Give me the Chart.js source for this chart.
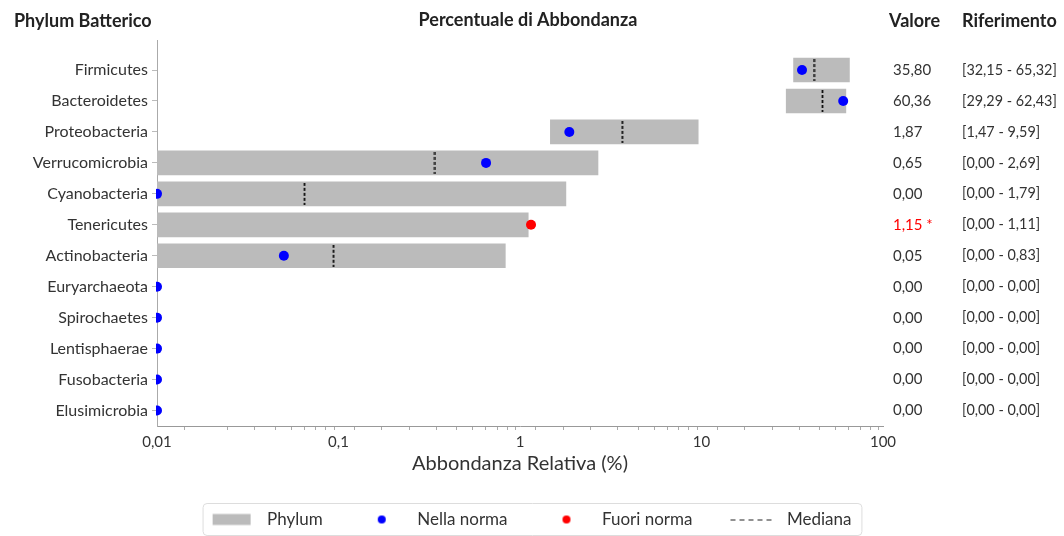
<!DOCTYPE html>
<html lang="it">
<head>
<meta charset="UTF-8">
<title>Percentuale di Abbondanza</title>
<style>
    body {
        margin: 0;
        background: #fff;
    }
    #wrap {
        width: 1064px;
        height: 536px;
    }
</style>
</head>
<body>
<div id="wrap"><canvas id="chart"></canvas></div>
<script src="https://cdn.jsdelivr.net/npm/chart.js"></script>
<script>
    const phyla = ['Firmicutes', 'Bacteroidetes', 'Proteobacteria', 'Verrucomicrobia', 'Cyanobacteria', 'Tenericutes',
        'Actinobacteria', 'Euryarchaeota', 'Spirochaetes', 'Lentisphaerae', 'Fusobacteria', 'Elusimicrobia'];
    const values = [35.80, 60.36, 1.87, 0.65, 0.00, 1.15, 0.05, 0.00, 0.00, 0.00, 0.00, 0.00];
    const refLow = [32.15, 29.29, 1.47, 0.00, 0.00, 0.00, 0.00, 0.00, 0.00, 0.00, 0.00, 0.00];
    const refHigh = [65.32, 62.43, 9.59, 2.69, 1.79, 1.11, 0.83, 0.00, 0.00, 0.00, 0.00, 0.00];
    const medians = [41.7, 46.4, 3.66, 0.34, 0.065, null, 0.094, null, null, null, null, null];
    const xTickValues = [0.01, 0.1, 1, 10, 100];

    const xMin = xTickValues[0];
    const xMax = xTickValues[xTickValues.length - 1];
    const textColor = '#333';
    const fmt = v => v.toFixed(2).replace('.', ',');
    const outOfNorm = i => values[i] > refHigh[i] || values[i] < refLow[i];

    // small canvases used as marker images (median dash, legend symbols)
    function makeMark(w, h, draw) {
        const c = document.createElement('canvas');
        c.width = w;
        c.height = h;
        draw(c.getContext('2d'));
        return c;
    }

    const medianMark = makeMark(3, 22, g => {
        g.strokeStyle = '#111';
        g.lineWidth = 1.8;
        g.setLineDash([3, 2]);
        g.beginPath();
        g.moveTo(1.5, 0);
        g.lineTo(1.5, 22);
        g.stroke();
    });

    const dot = color => makeMark(54, 14, g => {
        g.fillStyle = color;
        g.beginPath();
        g.arc(27, 7, 4, 0, Math.PI * 2);
        g.fill();
    });

    const legendMarks = [
        makeMark(54, 14, g => {
            g.fillStyle = '#bbbbbb';
            g.fillRect(8, 1.5, 38, 11);
        }),
        dot('#0000ff'),
        dot('#ff0000'),
        makeMark(54, 14, g => {
            g.strokeStyle = '#222';
            g.lineWidth = 1.2;
            g.setLineDash([5, 4]);
            g.beginPath();
            g.moveTo(6, 7.5);
            g.lineTo(50, 7.5);
            g.stroke();
        })
    ];

    const barData = [];
    const inNorm = [];
    const offNorm = [];
    const medianData = [];
    phyla.forEach((name, i) => {
        if (refHigh[i] > 0) {
            barData.push({y: i, x: [Math.max(refLow[i], xMin), refHigh[i]]});
        }
        const point = {y: i, x: Math.max(values[i], xMin)};
        (outOfNorm(i) ? offNorm : inNorm).push(point);
        if (medians[i] !== null) {
            medianData.push({y: i, x: medians[i]});
        }
    });

    const rowAxis = {
        type: 'linear',
        min: -0.97,
        max: 11.5,
        reverse: true,
        offset: false,
        afterBuildTicks: scale => {
            scale.ticks = phyla.map((_, i) => ({value: i}));
        }
    };

    const headerPlugin = {
        id: 'headers',
        afterDraw(chart) {
            const {ctx, scales, legend} = chart;
            ctx.save();
            ctx.font = 'bold 18px Lato';
            ctx.fillStyle = '#222';
            ctx.textBaseline = 'middle';
            ctx.textAlign = 'left';
            ctx.fillText('Phylum Batterico', 14, 21);
            ctx.fillText('Valore', scales.y2.left + 6, 21);
            ctx.fillText('Riferimento', scales.y3.left + 8, 21);

            const boxes = legend.legendHitBoxes;
            const left = Math.min(...boxes.map(b => b.left)) - 2;
            const right = Math.max(...boxes.map(b => b.left + b.width)) + 10;
            const top = boxes[0].top - 8;
            const bottom = Math.min(boxes[0].top + boxes[0].height + 7, chart.height - 1);
            ctx.strokeStyle = '#dddddd';
            ctx.lineWidth = 1;
            ctx.beginPath();
            ctx.roundRect(left + 0.5, top + 0.5, right - left, bottom - top, 4);
            ctx.stroke();
            ctx.restore();
        }
    };

    new Chart(document.getElementById('chart'), {
        type: 'bar',
        data: {
            datasets: [
                {
                    label: 'Phylum',
                    indexAxis: 'y',
                    data: barData,
                    backgroundColor: '#bbbbbb',
                    barThickness: 24,
                    order: 3,
                    xAxisID: 'x',
                    yAxisID: 'y'
                },
                {
                    type: 'scatter',
                    label: 'Nella norma',
                    data: inNorm,
                    backgroundColor: '#0000ff',
                    borderWidth: 0,
                    pointRadius: 5,
                    clip: {left: 1, top: false, right: false, bottom: false},
                    order: 1,
                    xAxisID: 'x',
                    yAxisID: 'y'
                },
                {
                    type: 'scatter',
                    label: 'Fuori norma',
                    data: offNorm,
                    backgroundColor: '#ff0000',
                    borderWidth: 0,
                    pointRadius: 5,
                    clip: {left: 1, top: false, right: false, bottom: false},
                    order: 1,
                    xAxisID: 'x',
                    yAxisID: 'y'
                },
                {
                    type: 'scatter',
                    label: 'Mediana',
                    data: medianData,
                    pointStyle: medianMark,
                    order: 2,
                    xAxisID: 'x',
                    yAxisID: 'y'
                }
            ]
        },
        options: {
            responsive: true,
            maintainAspectRatio: false,
            animation: false,
            layout: {
                padding: {top: 0, right: 8, bottom: -2, left: 0}
            },
            plugins: {
                tooltip: {enabled: false},
                title: {
                    display: true,
                    text: 'Percentuale di Abbondanza',
                    color: '#222',
                    font: {family: 'Lato', size: 18, weight: 'bold'},
                    padding: {top: 9, bottom: 9.4}
                },
                legend: {
                    position: 'bottom',
                    labels: {
                        usePointStyle: true,
                        pointStyleWidth: 54,
                        boxHeight: 14,
                        padding: 32,
                        color: textColor,
                        font: {family: 'Lato', size: 17},
                        generateLabels: chart => chart.data.datasets.map((ds, i) => ({
                            text: ds.label,
                            pointStyle: legendMarks[i],
                            datasetIndex: i,
                            hidden: !chart.isDatasetVisible(i),
                            fillStyle: 'transparent',
                            strokeStyle: 'transparent',
                            lineWidth: 0,
                            fontColor: textColor
                        }))
                    }
                }
            },
            scales: {
                x: {
                    type: 'logarithmic',
                    position: 'bottom',
                    min: xMin,
                    max: xMax,
                    afterFit: s => { s.height = 53; },
                    border: {color: '#999'},
                    grid: {drawOnChartArea: false, tickLength: 4, color: '#aaa'},
                    ticks: {
                        autoSkip: false,
                        maxRotation: 0,
                        padding: 3,
                        color: textColor,
                        font: {family: 'Lato', size: 15},
                        callback: v => xTickValues.includes(v) ? String(v).replace('.', ',') : ''
                    },
                    title: {
                        display: true,
                        text: 'Abbondanza Relativa (%)',
                        color: textColor,
                        font: {family: 'Lato', size: 20},
                        padding: {top: 0, bottom: 3}
                    }
                },
                y: {
                    ...rowAxis,
                    position: 'left',
                    afterFit: s => { s.width = 157; },
                    border: {color: '#aaa'},
                    grid: {drawOnChartArea: false, offset: false, tickLength: 5, color: '#bbb'},
                    ticks: {
                        padding: 4,
                        color: textColor,
                        font: {family: 'Lato', size: 16},
                        callback: v => phyla[v]
                    }
                },
                y2: {
                    ...rowAxis,
                    position: 'right',
                    weight: 1,
                    afterFit: s => { s.width = 71; },
                    border: {display: false},
                    grid: {display: false, drawTicks: false},
                    ticks: {
                        padding: 10,
                        color: c => outOfNorm(c.index) ? '#ff0000' : textColor,
                        font: {family: 'Lato', size: 15},
                        callback: v => fmt(values[v]) + (outOfNorm(v) ? ' *' : '')
                    }
                },
                y3: {
                    ...rowAxis,
                    position: 'right',
                    weight: 2,
                    afterFit: s => { s.width = 102; },
                    border: {display: false},
                    grid: {display: false, drawTicks: false},
                    ticks: {
                        padding: 8,
                        color: textColor,
                        font: {family: 'Lato', size: 14.4},
                        callback: v => '[' + fmt(refLow[v]) + ' - ' + fmt(refHigh[v]) + ']'
                    }
                }
            }
        },
        plugins: [headerPlugin]
    });
</script>
</body>
</html>
